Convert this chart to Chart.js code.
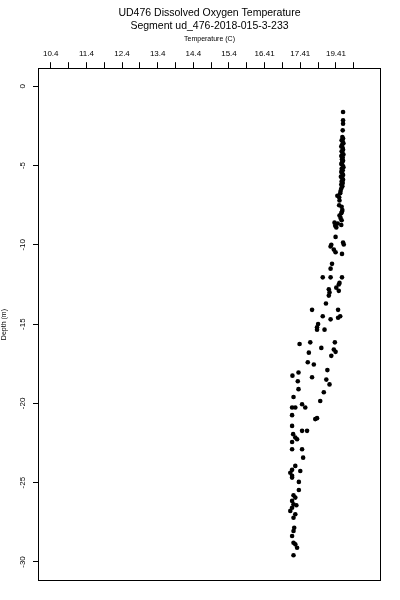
<!DOCTYPE html>
<html>
<head>
<meta charset="utf-8">
<script src="https://cdn.jsdelivr.net/npm/chart.js@4"></script>
<style>
html,body{margin:0;padding:0;background:#fff;}
#wrap{width:400px;height:600px;position:relative;}
</style>
</head>
<body>
<div id="wrap"><canvas id="c" width="400" height="600"></canvas></div>
<script>
const titleLines = ["UD476 Dissolved Oxygen Temperature", "Segment ud_476-2018-015-3-233"];
const xAxisTitle = "Temperature (C)";
const yAxisTitle = "Depth (m)";
const xTickValues = [10.4,10.9,11.4,11.9,12.4,12.9,13.4,13.9,14.4,14.9,15.4,15.9,16.4,16.9,17.4,17.9,18.4,18.9];
const xTickLabels = ["10.4","","11.4","","12.4","","13.4","","14.4","","15.4","","16.41","","17.41","","19.41",""];
const yTickValues = [-30,-25,-20,-15,-10,-5,0];
const yTickLabels = ["-30","-25","-20","-15","-10","-5","0"];

const depth = [
-1.62,-2.15,-2.36,-2.78,
-3.2,-3.3,-3.4,-3.5,-3.6,-3.7,-3.8,-3.9,-4.0,-4.1,-4.2,-4.3,-4.4,-4.5,-4.6,-4.7,-4.8,-4.9,-5.0,-5.1,-5.2,-5.3,-5.4,-5.5,-5.6,-5.7,-5.8,-5.9,-6.0,-6.1,-6.2,-6.3,
-6.45,-6.6,-6.75,-6.9,-7.0,-7.2,-7.5,-7.6,-7.8,-7.9,-8.0,-8.15,-8.3,-8.45,-8.6,-8.65,-8.75,-8.8,-8.9,
-9.5,-9.85,-9.98,-10.0,-10.1,-10.3,-10.47,-10.57,
-11.2,-11.5,-12.05,-12.05,-12.05,-12.4,-12.5,-12.7,-12.8,-12.9,-13.0,-13.2,-13.7,-14.1,-14.1,-14.5,-14.5,-14.6,-14.7,-15.0,-15.2,-15.35,-15.35,
-16.15,-16.15,-16.25,-16.5,-16.6,-16.75,-16.8,-17.0,-17.4,-17.55,-17.9,-18.05,-18.25,-18.35,-18.5,-18.6,-18.8,-19.1,-19.3,
-19.6,-19.85,-20.05,-20.26,-20.26,-20.26,-20.74,-20.99,-20.93,-21.42,-21.73,-21.73,-21.94,-22.15,-22.26,-22.43,-22.89,-22.89,-23.42,
-23.94,-24.19,-24.37,-24.57,-24.26,-24.68,-24.95,-25.46,-25.79,-25.94,-26.15,-26.36,-26.42,-26.58,-26.78,-26.99,-27.21,-27.84,-28.05,
-28.36,-28.79,-28.89,-29.1,-29.58
];
const temperature = [
18.60,18.60,18.60,18.59,
18.58,18.60,18.56,18.59,18.61,18.57,18.55,18.59,18.60,18.56,18.58,18.61,18.55,18.59,18.57,18.60,18.57,18.55,18.59,18.61,18.56,18.59,18.55,18.58,18.60,18.54,18.58,18.60,18.56,18.59,18.55,18.58,
18.55,18.53,18.52,18.44,18.49,18.50,18.49,18.56,18.58,18.57,18.55,18.50,18.53,18.56,18.36,18.45,18.55,18.38,18.41,
18.39,18.60,18.62,18.27,18.25,18.34,18.39,18.57,
18.29,18.25,18.03,18.25,18.57,18.50,18.48,18.41,18.20,18.48,18.22,18.20,18.12,17.73,18.46,18.03,18.52,18.46,18.25,17.90,17.87,17.87,18.08,
17.68,18.37,17.38,17.99,18.34,18.39,17.64,18.27,17.61,17.78,18.16,17.35,17.18,17.73,18.13,17.33,18.22,17.35,18.06,
17.21,17.96,17.45,17.54,17.17,17.26,17.17,17.82,17.87,17.17,17.45,17.59,17.20,17.26,17.31,17.17,17.17,17.45,17.48,
17.26,17.17,17.12,17.17,17.40,17.17,17.36,17.36,17.21,17.26,17.17,17.21,17.29,17.17,17.12,17.26,17.21,17.23,17.21,
17.17,17.21,17.26,17.31,17.21
];

const points = depth.map((d, i) => ({x: temperature[i], y: d}));
const FONT = "'Liberation Sans', Arial, sans-serif";

const boxPlugin = {
  id: 'box',
  afterDraw(chart) {
    const {ctx, chartArea: a} = chart;
    ctx.save();
    ctx.strokeStyle = '#000';
    ctx.lineWidth = 1;
    const l = Math.round(a.left) + 0.5, t = Math.round(a.top) + 0.5;
    const r = Math.round(a.right) - 0.5, b = Math.round(a.bottom) - 0.5;
    ctx.strokeRect(l, t, r - l, b - t);
    ctx.restore();
  }
};

new Chart(document.getElementById('c'), {
  type: 'scatter',
  data: { datasets: [{ data: points, backgroundColor: '#000', borderColor: '#000', borderWidth: 0, pointRadius: 2.3, pointHoverRadius: 2.3 }] },
  options: {
    responsive: false,
    animation: false,
    events: [],
    layout: { padding: { left: 0, right: 19, top: 0, bottom: 19 } },
    plugins: {
      legend: { display: false },
      tooltip: { enabled: false },
      title: {
        display: true,
        fullSize: false,
        text: titleLines,
        color: '#000',
        font: { family: FONT, size: 10.5, weight: 'normal', lineHeight: 1.2 },
        padding: { top: 7, bottom: 3 }
      }
    },
    scales: {
      x: {
        type: 'linear',
        position: 'top',
        min: 10.043,
        max: 19.664,
        afterBuildTicks: (s) => { s.ticks = xTickValues.map(v => ({value: v})); },
        afterFit: (s) => { s.height = 33; },
        grid: { display: true, drawOnChartArea: false, drawTicks: true, tickLength: 6, color: '#000', tickColor: '#000' },
        border: { display: false },
        ticks: {
          autoSkip: false, maxRotation: 0, minRotation: 0, padding: 4, color: '#000',
          font: { family: FONT, size: 8 },
          callback: (v, i) => xTickLabels[i]
        },
        title: { display: true, text: xAxisTitle, color: '#000', font: { family: FONT, size: 7 }, padding: { top: 0, bottom: 0 } }
      },
      y: {
        type: 'linear',
        position: 'left',
        min: -31.2,
        max: 1.14,
        afterBuildTicks: (s) => { s.ticks = yTickValues.map(v => ({value: v})); },
        afterFit: (s) => { s.width = 38; },
        grid: { display: true, drawOnChartArea: false, drawTicks: true, tickLength: 5, color: '#000', tickColor: '#000' },
        border: { display: false },
        ticks: {
          autoSkip: false, minRotation: 90, maxRotation: 90, crossAlign: 'center', padding: 4, color: '#000',
          font: { family: FONT, size: 8 },
          callback: (v, i) => yTickLabels[i]
        },
        title: { display: true, text: yAxisTitle, color: '#000', font: { family: FONT, size: 7 }, padding: { top: 0, bottom: 0 } }
      }
    }
  },
  plugins: [boxPlugin]
});
</script>
</body>
</html>
